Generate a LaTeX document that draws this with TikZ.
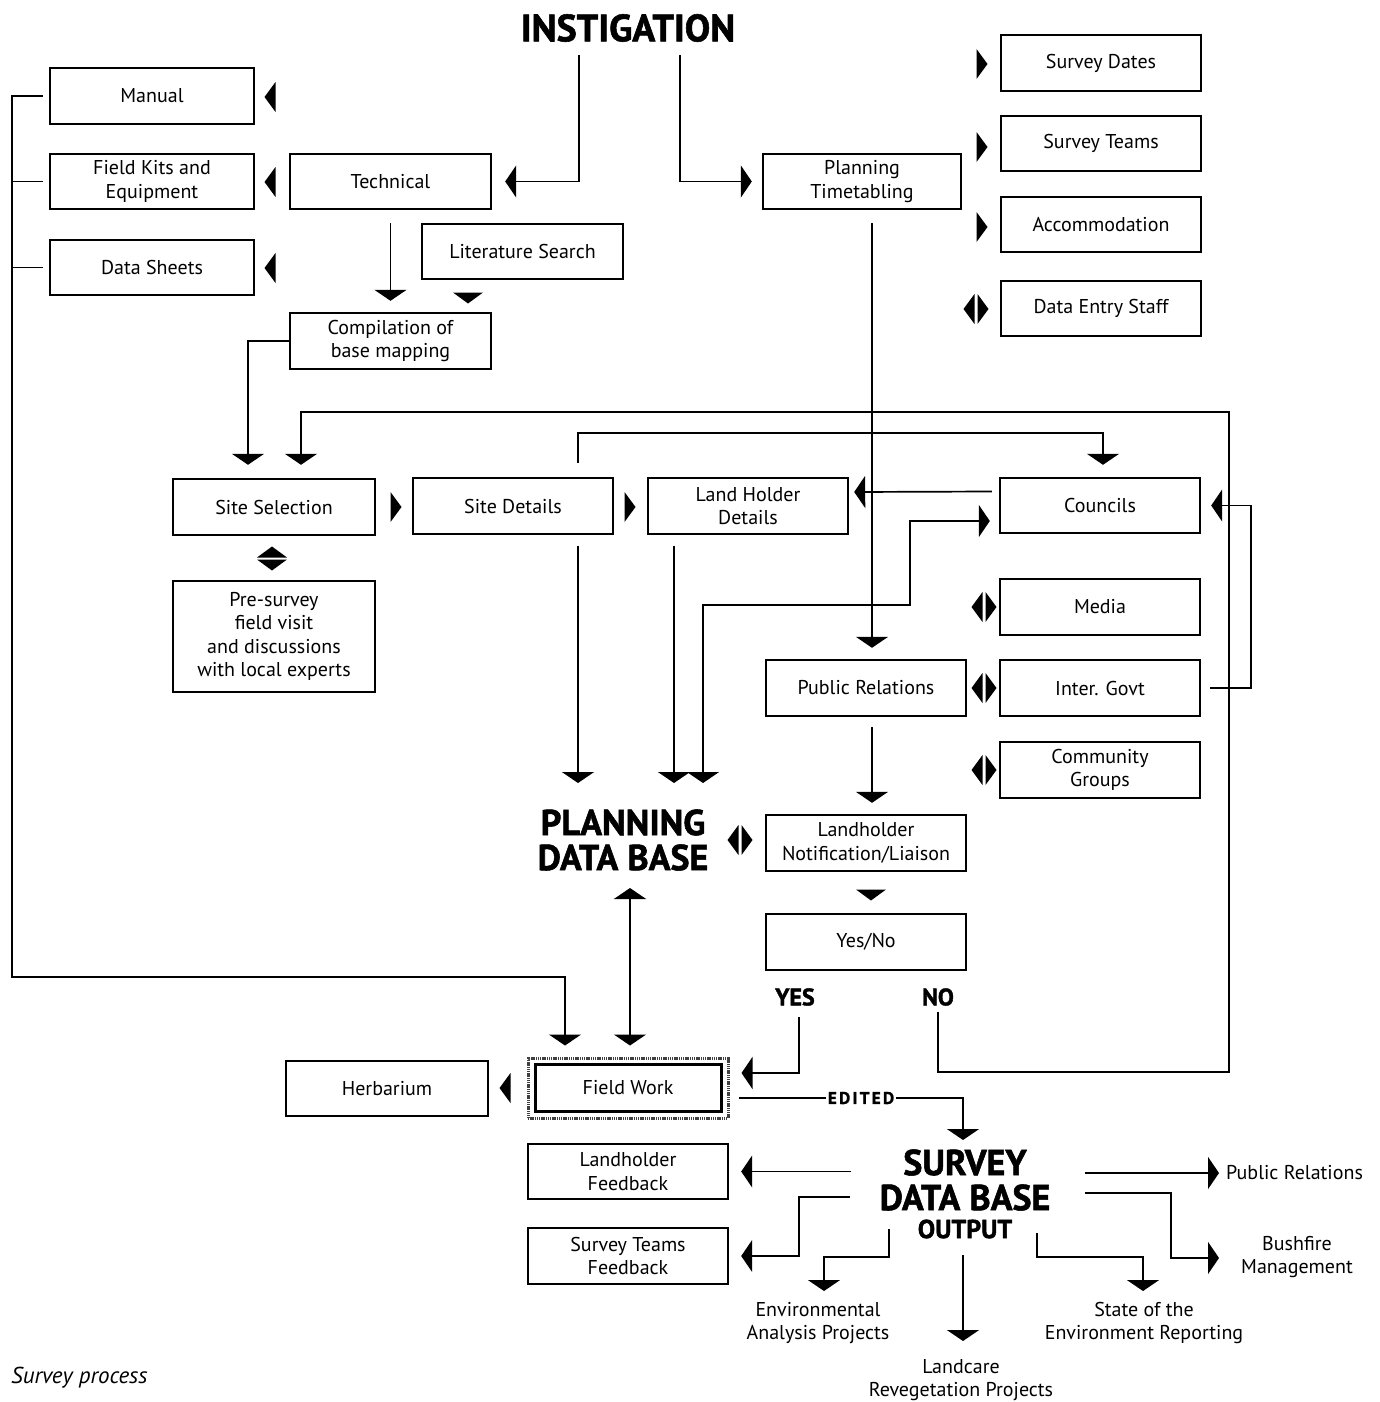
\documentclass[tikz,border=0pt]{standalone}
\usepackage{fontspec}
\setmainfont{PT Sans}
\newfontfamily\heavy{PT Sans}[FakeBold=1.5]
\usetikzlibrary{arrows.meta,calc}
\newcommand\TriL[1]{\pic[rotate=180] at (#1) {trir};}
\newcommand\TriR[1]{\pic at (#1) {trir};}
\newcommand\TriD[1]{\pic[rotate=-90] at (#1) {trir};}
\newcommand\TriU[1]{\pic[rotate=90] at (#1) {trir};}
\newcommand\TriLR[2]{\pic[rotate=180] at (#1-7,#2) {trir}; \pic at (#1+7,#2) {trir};}
\begin{document}
\begin{tikzpicture}[x=1pt,y=-1pt,
  box/.style={draw,line width=2.4pt,align=center,inner sep=0pt,minimum width=200pt,minimum height=56pt,font=\fontsize{20}{23.5}\selectfont},
  conn/.style={line width=1.7pt},
  arr/.style={-{Triangle[width=32pt,length=11pt]}},
  arrb/.style={{Triangle[width=32pt,length=11pt]}-{Triangle[width=32pt,length=11pt]}},
  head/.style={font=\fontsize{36}{35}\selectfont\heavy\bfseries,align=center,inner sep=0pt},
  lbl/.style={font=\fontsize{20}{23.5}\selectfont,align=center,inner sep=0pt},
  trir/.pic={\fill (-5.5,-15) -- (5.5,0) -- (-5.5,15) -- cycle;},
]
\useasboundingbox (0,0) rectangle (1380,1402);

% headings
\node[head,font=\fontsize{38}{38}\selectfont\heavy\bfseries] (inst) at (628,28) {INSTIGATION};
\node[head] (pdb) at (623,840) {PLANNING\\DATA BASE};
\node[head] (sdb) at (965,1180) {SURVEY\\DATA BASE};
\node[font=\fontsize{26}{26}\selectfont\heavy\bfseries,inner sep=0pt] (sdbout) at (965,1229) {OUTPUT};
\node[font=\fontsize{24}{24}\selectfont\heavy\bfseries,inner sep=0pt] (yes) at (795,997) {YES};
\node[font=\fontsize{24}{24}\selectfont\heavy\bfseries,inner sep=0pt] (no) at (938,997) {NO};
\node[font=\fontsize{17}{17}\selectfont\heavy\bfseries,inner sep=2pt] (edited) at (861,1098) {\addfontfeature{LetterSpace=14}EDITED};

% boxes
\node[box,minimum width=204pt] (manual) at (152,96) {Manual};
\node[box,minimum width=204pt,minimum height=55pt] (fieldkits) at (152,181.5) {Field Kits and\\Equipment};
\node[box,minimum width=204pt,minimum height=55pt] (datasheets) at (152,267.5) {Data Sheets};
\node[box,minimum width=201pt,minimum height=55pt] (tech) at (390.5,181.5) {Technical};
\node[box,minimum width=201pt,minimum height=55pt] (lit) at (522.5,251.5) {Literature Search};
\node[box,minimum width=201pt] (comp) at (390.5,341) {Compilation of\\base mapping};
\node[box,minimum width=198pt,minimum height=55pt] (plan) at (862,181.5) {Planning\\Timetabling};
\node[box] (sdates) at (1101,63) {Survey Dates};
\node[box,minimum height=55pt] (steams) at (1101,143.5) {Survey Teams};
\node[box,minimum height=55pt] (accom) at (1101,224.5) {Accommodation};
\node[box,minimum height=55pt] (dentry) at (1101,308.5) {Data Entry Staff};
\node[box,minimum width=202pt] (sitesel) at (274,507) {Site Selection};
\node[box] (sitedet) at (513,506) {Site Details};
\node[box] (landhold) at (748,506) {Land Holder\\Details};
\node[box,minimum height=55pt] (councils) at (1100,505.5) {Councils};
\node[box,minimum width=202pt,minimum height=111pt] (presurvey) at (274,636.5) {Pre-survey\\field visit\\and discussions\\with local experts};
\node[box] (media) at (1100,607) {Media};
\node[box] (pr) at (866,688) {Public Relations};
\node[box] (intergov) at (1100,688) {Inter. Govt};
\node[box] (community) at (1100,770) {Community\\Groups};
\node[box] (notif) at (866,843) {Landholder\\Notification/Liaison};
\node[box] (yesno) at (866,942) {Yes/No};
\node[box,draw=black!75,dash pattern=on 1.4pt off 0.8pt,line width=3pt,minimum height=60pt] (fieldwork) at (628,1088) {Field Work};
\draw[line width=2.4pt] ($(fieldwork.south west)+(9,-8)$) rectangle ($(fieldwork.north east)+(-8,8)$);
\node[box,minimum width=202pt,minimum height=55pt] (herb) at (387,1088.5) {Herbarium};
\node[box,minimum height=55pt] (lfeed) at (628,1171.5) {Landholder\\Feedback};
\node[box] (stfeed) at (628,1256) {Survey Teams\\Feedback};

% output labels
\node[lbl,anchor=west] (pubrel) at (1226,1173) {Public Relations};
\node[lbl] (bush) at (1297,1257) {Bushfire\\Management};
\node[lbl] (env) at (818,1323) {Environmental\\Analysis Projects};
\node[lbl] (state) at (1144,1323) {State of the\\Environment Reporting};
\node[lbl] (landcare) at (961,1380) {Landcare\\Revegetation Projects};
\node[lbl,anchor=west,font=\fontsize{23}{26}\selectfont\itshape] (cap) at (11,1378) {Survey process};

% helper coordinates
\coordinate (rbot) at (1229,1072);
\coordinate (rtop) at (1229,412);
\coordinate (ctop) at (1103,433);
\coordinate (m1) at (910,605);
\coordinate (lt) at (12,96);
\coordinate (lb) at (12,977);

% connectors
\draw[conn,arr] ($(inst)+(-49,27)$) |- ([xshift=13pt]tech.east);
\draw[conn,arr] ($(inst)+(52,27)$) |- ([xshift=-10pt]plan.west);
\draw[conn,arr] ([yshift=-13pt]tech.south) -- ([yshift=11pt]comp.north);
\draw[conn,arr] (comp.west) -| ([xshift=-26pt,yshift=13pt]sitesel.north);
\draw[conn,arr] ([yshift=-6pt]no.south) |- (rbot) -- (rtop) -| ([xshift=27pt,yshift=13pt]sitesel.north);
\draw[conn,arr] ([xshift=65pt,yshift=14pt]sitedet.north) |- (ctop) -- ([xshift=3pt,yshift=12pt]councils.north);
\draw[conn,arr] ([xshift=-7pt,yshift=14pt]councils.west) -- ([xshift=5pt,yshift=14pt]landhold.east);
\draw[conn,arrb] ([xshift=-9pt,yshift=-15.5pt]councils.west) -| (m1) -| ($(pdb)+(80,-57)$);
\draw[conn,arr] ([xshift=10pt,yshift=-13pt]plan.south) -- ([xshift=6pt,yshift=11pt]pr.north);
\draw[conn,arr] ([xshift=65pt,yshift=-11pt]sitedet.south) -- ($(pdb)+(-45,-57)$);
\draw[conn,arr] ([xshift=-74pt,yshift=-11pt]landhold.south) -- ($(pdb)+(51,-57)$);
\draw[conn,arr] ([xshift=6pt,yshift=-10pt]pr.south) -- ([xshift=6pt,yshift=11pt]notif.north);
\draw[conn,arr] ([xshift=9pt]intergov.east) -| ([xshift=50pt]councils.east) -- ([xshift=10pt]councils.east);
\draw[conn,arr] ($(yes)+(4,20)$) |- ([xshift=12pt,yshift=15pt]fieldwork.east);
\draw[conn,arr] ([xshift=-6pt]manual.west) -- (lt) -- (lb) -| ([xshift=-63pt,yshift=11pt]fieldwork.north);
\draw[conn] ([xshift=-6pt]fieldkits.west) -- (fieldkits.west -| lt);
\draw[conn] ([xshift=-6pt]datasheets.west) -- (datasheets.west -| lt);
\draw[conn,arrb] ($(pdb)+(7,48)$) -- ([xshift=2pt,yshift=11pt]fieldwork.north);
\draw[conn] ([xshift=9pt,yshift=-10pt]fieldwork.east) -- (edited.west);
\draw[conn,arr] (edited.east) -| ($(sdb)+(-2,-40)$);
\draw[conn,arr] ($(sdb)+(-114,-8.5)$) -- ([xshift=12pt]lfeed.east);
\draw[conn,arr] ($(sdb)+(-115,17)$) -| ($(stfeed.east)+(70,0)$) -- ([xshift=12pt]stfeed.east);
\draw[conn,arr] ($(sdb)+(-76,49)$) |- ($(env)+(6,-66)$) -- ($(env)+(6,-32)$);
\draw[conn,arr] ($(sdb)+(-2,75)$) -- ($(landcare)+(2,-39)$);
\draw[conn,arr] ($(sdb)+(72,53)$) |- ($(state)+(-1,-66)$) -- ($(state)+(-1,-32)$);
\draw[conn,arr] ($(sdb)+(120,-7)$) -- ([xshift=-7pt]pubrel.west);
\draw[conn,arr] ($(sdb)+(120,13)$) -| ($(bush)+(-126,1)$) -- ($(bush)+(-78,1)$);

% isolated markers
\TriL{270,97} \TriL{270,182} \TriL{270,268}
\TriR{982,64} \TriR{982,147} \TriR{982,227}
\TriLR{976}{309}
\TriR{396,507} \TriR{630,507}
\TriU{272,552} \TriD{272,565}
\TriLR{984}{607} \TriLR{984}{688} \TriLR{984}{770}
\TriLR{740}{840}
\TriL{505,1088}
\TriD{468,298} \TriD{871,895}
\end{tikzpicture}
\end{document}
